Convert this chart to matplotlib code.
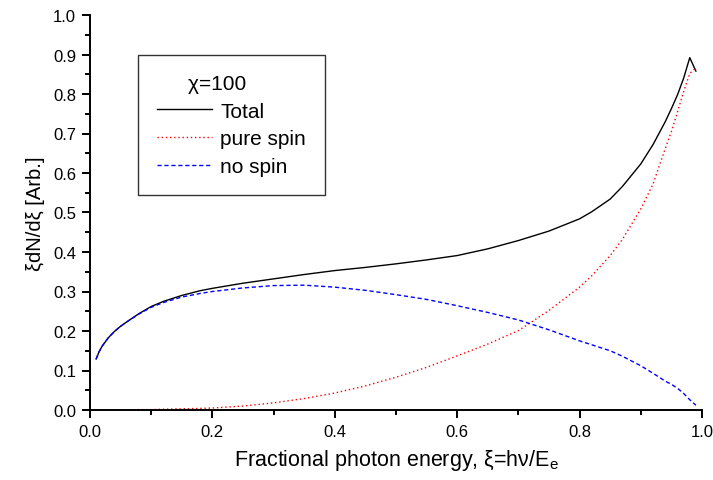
"""
Photon spectrum, chi = 100
"""

import matplotlib
matplotlib.use('Agg')
import matplotlib.pyplot as plt
from matplotlib.ticker import MultipleLocator, FormatStrFormatter

xi = [0.01, 0.015, 0.02, 0.03, 0.04, 0.05, 0.06, 0.08, 0.10, 0.12, 0.15, 0.18, 0.20,
      0.25, 0.30, 0.35, 0.40, 0.45, 0.50, 0.55, 0.60, 0.65, 0.70, 0.75, 0.80, 0.82,
      0.85, 0.87, 0.90, 0.92, 0.94, 0.95, 0.96, 0.97, 0.98, 0.99]
total = [0.129, 0.148, 0.162, 0.183, 0.199, 0.212, 0.223, 0.244, 0.262, 0.275, 0.290, 0.302, 0.308,
         0.321, 0.332, 0.343, 0.353, 0.361, 0.370, 0.380, 0.391, 0.408, 0.429, 0.453, 0.484, 0.502,
         0.534, 0.566, 0.623, 0.672, 0.730, 0.763, 0.798, 0.840, 0.892, 0.858]
pure_spin = [0.0, 0.0, 0.0, 0.0, 0.0, 0.0, 0.0, 0.001, 0.001, 0.002, 0.003, 0.004, 0.005,
             0.010, 0.018, 0.029, 0.043, 0.061, 0.083, 0.108, 0.137, 0.167, 0.201, 0.252, 0.311, 0.340,
             0.391, 0.432, 0.509, 0.572, 0.662, 0.705, 0.755, 0.806, 0.852, 0.866]
no_spin = [0.129, 0.148, 0.162, 0.183, 0.199, 0.212, 0.223, 0.243, 0.260, 0.272, 0.286, 0.295, 0.300,
           0.309, 0.315, 0.316, 0.311, 0.303, 0.292, 0.280, 0.264, 0.247, 0.228, 0.203, 0.175, 0.165,
           0.150, 0.136, 0.112, 0.093, 0.073, 0.065, 0.055, 0.042, 0.026, 0.012]

plt.rcParams['font.family'] = ['Liberation Sans', 'DejaVu Sans']

fig = plt.figure(figsize=(7.13, 4.81), dpi=100)
ax = fig.add_axes([90/713, 1-411/481, 612/713, 395/481])

ax.plot(xi, total, color='black', lw=1.0, label='Total')
ax.plot(xi, pure_spin, color='red', lw=1.0, linestyle=(0, (1, 2)), label='pure spin')
ax.plot(xi, no_spin, color='blue', lw=1.0, linestyle=(0, (3, 2)), label='no spin')

ax.set_xlim(0, 1.0)
ax.set_ylim(0, 1.0)
ax.xaxis.set_major_locator(MultipleLocator(0.2))
ax.xaxis.set_minor_locator(MultipleLocator(0.1))
ax.yaxis.set_major_locator(MultipleLocator(0.1))
ax.yaxis.set_minor_locator(MultipleLocator(0.05))
ax.xaxis.set_major_formatter(FormatStrFormatter('%.1f'))
ax.yaxis.set_major_formatter(FormatStrFormatter('%.1f'))

for s in ['top', 'right']:
    ax.spines[s].set_visible(False)
for s in ['left', 'bottom']:
    ax.spines[s].set_linewidth(1.4)
ax.tick_params(which='major', direction='out', length=6, width=1.4, labelsize=12, pad=4)
ax.tick_params(which='minor', direction='out', length=3.5, width=1.4)

ax.set_xlabel('Fractional photon energy, \u03be=h\u03bd/E$_\\mathregular{e}$', fontsize=15.5, labelpad=6)
ax.set_ylabel('\u03bedN/d\u03be [Arb.]', fontsize=14.5, labelpad=6)

# title shifted left a little with trailing spaces, like the original
leg = ax.legend(title='\u03c7=100     ', loc='upper left', bbox_to_anchor=(138/713, 1-56/481),
                bbox_transform=fig.transFigure, borderaxespad=0, fontsize=15, title_fontsize=15,
                frameon=True, fancybox=False, edgecolor='#333333', framealpha=1,
                handlelength=2.65, handletextpad=0.4, borderpad=0.9, labelspacing=0.42)
leg.get_frame().set_linewidth(1.0)

fig.savefig('out.png', dpi=100)
